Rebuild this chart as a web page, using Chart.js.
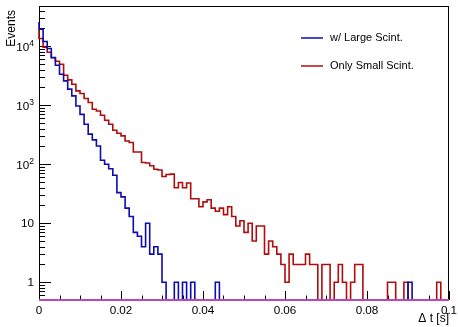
<!DOCTYPE html>
<html lang="en">
<head>
<meta charset="UTF-8">
<title>Delta t</title>
<script src="https://cdn.jsdelivr.net/npm/chart.js"></script>
<style>
  html, body { margin: 0; padding: 0; background: #fff; }
  #wrap { width: 458px; height: 327px; }
</style>
</head>
<body>
<div id="wrap"><canvas id="dtChart"></canvas></div>
<script>
// 100 bins of 1 ms, 0 .. 0.1 s
const X_MIN = 0, X_MAX = 0.1, BIN_W = 0.001;
const Y_MIN = 0.5, Y_MAX = 48000;

const largeScint = [
  25800, 19400, 12000, 9140, 6430, 4760, 3350, 2580, 1870, 1440,
  970, 700, 476, 323, 259, 204, 117, 100, 84, 65,
  33, 28, 18, 13, 7, 6, 4, 10, 3, 4,
  3, 1, 0, 0, 1, 0, 1, 0, 1, 0,
  0, 0, 0, 0, 1, 0, 0, 0, 0, 0,
  0, 0, 0, 0, 0, 0, 0, 0, 0, 0,
  0, 0, 0, 0, 0, 0, 0, 0, 0, 0,
  0, 0, 0, 0, 0, 0, 0, 0, 0, 0,
  0, 0, 0, 0, 0, 0, 0, 0, 0, 0,
  0, 1, 0, 0, 0, 0, 0, 0, 0, 0
];
const smallScint = [
  18900, 13500, 9620, 7910, 6380, 5570, 4950, 3220, 2690, 2270,
  1750, 1580, 1300, 1110, 855, 800, 677, 557, 476, 377,
  335, 302, 248, 233, 161, 161, 107, 105, 94, 82,
  80, 62, 67, 68, 40, 49, 40, 48, 26, 26,
  19, 23, 25, 18, 16, 18, 14, 19, 13, 9,
  11, 7, 10, 5, 9, 9, 3, 5, 4, 3,
  2, 1, 3, 2, 2, 2, 3, 2, 2, 0,
  2, 2, 0, 1, 2, 1, 0, 1, 2, 2,
  0, 0, 0, 0, 0, 0, 1, 1, 0, 0,
  1, 0, 0, 0, 0, 0, 0, 0, 1, 0
];
const noScint = [
  0, 0, 0, 0, 0, 0, 0, 0, 0, 0,
  0, 0, 0, 0, 0, 0, 0, 0, 0, 0,
  0, 0, 0, 0, 0, 0, 0, 0, 0, 0,
  0, 0, 0, 0, 0, 0, 0, 0, 0, 0,
  0, 0, 0, 0, 0, 0, 0, 0, 0, 0,
  0, 0, 0, 0, 0, 0, 0, 0, 0, 0,
  0, 0, 0, 0, 0, 0, 0, 0, 0, 0,
  0, 0, 0, 0, 0, 0, 0, 0, 0, 0,
  0, 0, 0, 0, 0, 0, 0, 0, 0, 0,
  0, 0, 0, 0, 0, 0, 0, 0, 0, 0
];

const seriesNames = ['w/ Large Scint.', 'Only Small Scint.'];
const yDecades = [1, 10, 100, 1000, 10000];
const yExponents = ['', '', '2', '3', '4'];

const BLUE = '#0c0cb0';
const RED = '#b00c0c';
const MAGENTA = '#b848b8';
const FONT = '"Liberation Sans", Arial, sans-serif';

// bin contents -> step outline, empty bins sit on the frame bottom
function steps(vals) {
  const pts = vals.map((v, i) => ({ x: X_MIN + i * BIN_W, y: v > 0 ? v : Y_MIN }));
  pts.push({ x: X_MAX, y: pts[pts.length - 1].y });
  return pts;
}

// ROOT-like frame + inward ticks (under the histograms), then labels/legend
const rootFrame = {
  id: 'rootFrame',
  beforeDatasetsDraw(chart) {
    const ctx = chart.ctx;
    const { left, right, top, bottom } = chart.chartArea;
    const xs = chart.scales.x, ys = chart.scales.y;
    ctx.save();
    ctx.strokeStyle = '#000';
    ctx.lineWidth = 1;
    ctx.strokeRect(left + 0.5, top + 0.5, right - left - 1, bottom - top - 1);

    ctx.beginPath();
    // x ticks: major 0.02, minor 0.005
    for (let k = 0; k <= 20; k++) {
      const px = Math.round(xs.getPixelForValue(k * 0.005)) + 0.5;
      const len = k % 4 === 0 ? 9 : 4.5;
      ctx.moveTo(px, bottom);
      ctx.lineTo(px, bottom - len);
    }
    // y ticks: decades and 2..9 in between
    for (let d = 0.1; d <= 10000; d *= 10) {
      for (let k = 1; k <= 9; k++) {
        const v = k * d;
        if (v < Y_MIN || v > Y_MAX) continue;
        const py = Math.round(ys.getPixelForValue(v)) + 0.5;
        const len = k === 1 ? 12 : 6;
        ctx.moveTo(left, py);
        ctx.lineTo(left + len, py);
      }
    }
    ctx.stroke();
    ctx.restore();
  },
  afterDraw(chart) {
    const ctx = chart.ctx;
    const { right } = chart.chartArea;
    const ys = chart.scales.y;
    ctx.save();
    ctx.fillStyle = '#000';
    ctx.textBaseline = 'middle';
    ctx.textAlign = 'right';
    yDecades.forEach((v, i) => {
      const py = ys.getPixelForValue(v);
      const exp = yExponents[i];
      if (!exp) {
        ctx.font = '11.7px ' + FONT;
        ctx.fillText(String(v), 34, py + 1);
      } else {
        ctx.font = '8.5px ' + FONT;
        const w = ctx.measureText(exp).width;
        ctx.fillText(exp, 34, py - 3);
        ctx.font = '11.7px ' + FONT;
        ctx.fillText('10', 34 - w, py + 2);
      }
    });

    // axis titles
    ctx.font = '12px ' + FONT;
    ctx.textAlign = 'right';
    ctx.fillText('\u0394 t [s]', right, 319);
    ctx.save();
    ctx.translate(12, 10);
    ctx.rotate(-Math.PI / 2);
    ctx.fillText('Events', 0, 0);
    ctx.restore();

    // legend
    ctx.font = '11px ' + FONT;
    ctx.textAlign = 'left';
    [[BLUE, 38], [RED, 66]].forEach(([col, y], i) => {
      ctx.strokeStyle = col;
      ctx.lineWidth = 1.5;
      ctx.beginPath();
      ctx.moveTo(301, y);
      ctx.lineTo(323, y);
      ctx.stroke();
      ctx.fillText(seriesNames[i], 330, y);
    });
    ctx.restore();
  }
};

new Chart(document.getElementById('dtChart'), {
  type: 'line',
  data: {
    datasets: [
      { label: 'none', data: steps(noScint), borderColor: MAGENTA, borderWidth: 2, stepped: 'after', clip: 2 },
      { label: seriesNames[0], data: steps(largeScint), borderColor: BLUE, borderWidth: 1.6, stepped: 'after', clip: 1 },
      { label: seriesNames[1], data: steps(smallScint), borderColor: RED, borderWidth: 1.6, stepped: 'after', clip: 1 }
    ]
  },
  options: {
    responsive: true,
    maintainAspectRatio: false,
    animation: false,
    layout: { padding: { left: 0, right: 9, top: 6, bottom: 0 } },
    elements: { point: { radius: 0 } },
    plugins: { legend: { display: false }, tooltip: { enabled: false } },
    scales: {
      x: {
        type: 'linear', min: X_MIN, max: X_MAX,
        grid: { display: false, drawTicks: false },
        border: { display: false },
        ticks: {
          stepSize: 0.02, padding: 4, maxRotation: 0, color: '#000',
          font: { family: FONT, size: 11.7 },
          callback: v => String(+v.toFixed(3))
        },
        afterFit: s => { s.height = 27; s.paddingLeft = 0; s.paddingRight = 0; }
      },
      y: {
        type: 'logarithmic', min: Y_MIN, max: Y_MAX,
        grid: { display: false, drawTicks: false },
        border: { display: false },
        ticks: { display: false },
        afterFit: s => { s.width = 39; }
      }
    }
  },
  plugins: [rootFrame]
});
</script>
</body>
</html>
